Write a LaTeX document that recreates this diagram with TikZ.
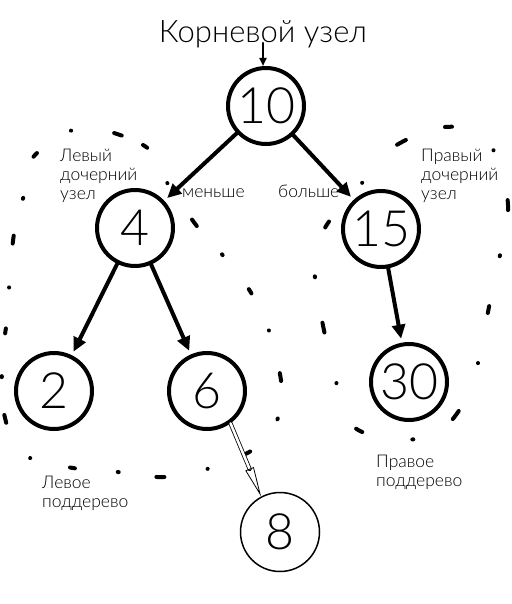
\documentclass[tikz,border=0pt]{standalone}
\usepackage{fontspec}
\IfFontExistsTF{Lato Light}{\setmainfont{Lato Light}}{\setmainfont{Lato}}
\usetikzlibrary{arrows.meta}

\begin{document}
\begin{tikzpicture}[x=1pt,y=-1pt,>=Stealth,line cap=round,line join=round,
  keynode/.style={circle,draw,line width=4pt,minimum size=76pt,inner sep=0pt,font=\fontsize{50}{50}\selectfont},
  thinnode/.style={circle,draw,line width=1.5pt,minimum size=79pt,inner sep=0pt,font=\fontsize{50}{50}\selectfont},
  link/.style={line width=4pt,-{Triangle[length=14pt,width=13pt]},shorten >=4pt},
  note/.style={font=\fontsize{17.5}{19}\selectfont,align=left,inner sep=0pt},
  blob/.style={line width=4pt,dash pattern=on 5pt off 41pt on 0.1pt off 44pt on 8pt off 38pt on 1pt off 43pt}]

  \useasboundingbox (0,0) rectangle (511,604);

  % subtree outlines (hand-drawn-ish)
  \draw[blob] plot[smooth cycle,tension=0.6] coordinates {
    (82,128) (143,145) (160,172) (196,225) (215,245) (229,264) (250,291)
    (270,334) (282,397) (265,440) (225,463) (185,474) (157,477) (118,472)
    (73,468) (25,455) (5,418) (2,362) (7,319) (10,275) (15,228) (28,182) (35,155)};
  \draw[blob,dash pattern=on 7pt off 51pt on 0.1pt off 52pt on 10pt off 46pt on 1pt off 51pt]
    plot[smooth cycle,tension=0.6] coordinates {
    (395,146) (445,127) (487,140) (508,205) (494,280) (484,331) (468,395)
    (428,437) (355,428) (333,368) (318,298) (315,255) (330,220) (372,172)};

  % root label
  \node[inner sep=0pt,anchor=base,font=\fontsize{31}{31}\selectfont] (rootLbl) at (263,43) {Корневой узел};

  % tree nodes
  \node[keynode] (n10) at (266,106) {10};
  \node[keynode] (n4)  at (135,228) {4};
  \node[keynode] (n15) at (381,229) {15};
  \node[keynode] (n2)  at (54,391)  {2};
  \node[keynode] (n6)  at (207,391) {6};
  \node[keynode] (n30) at (409,382) {30};
  \node[thinnode] (n8) at (280,532) {8};

  % edges
  \draw[line width=2.5pt,-{Triangle[length=8pt,width=7pt]}] (rootLbl.base) -- (rootLbl.base |- n10.north);
  \draw[link] (n10) -- (n4);
  \draw[link] (n10) -- (n15);
  \draw[link] (n4) -- (n2);
  \draw[link] (n4) -- (n6);
  \draw[link] (n15) -- (n30);
  \draw[double,double distance=2.5pt,line width=0.8pt,-{Triangle[open,length=30pt,width=9pt]}] (n6.-54) -- (n8.118);

  % notes
  \node[note,anchor=north west] (leftChildLbl) at (60,149) {Левый\\дочерний\\узел};
  \node[note,anchor=base west] (lessLbl) at (182,197) {меньше};
  \node[note,anchor=base west] (moreLbl) at (278,197) {больше};
  \node[note,anchor=north west] (rightChildLbl) at (421,149) {Правый\\дочерний\\узел};
  \node[note,anchor=north west] (leftTreeLbl) at (42,476) {Левое\\поддерево};
  \node[note,anchor=north west] (rightTreeLbl) at (376,455) {Правое\\поддерево};

\end{tikzpicture}
\end{document}
